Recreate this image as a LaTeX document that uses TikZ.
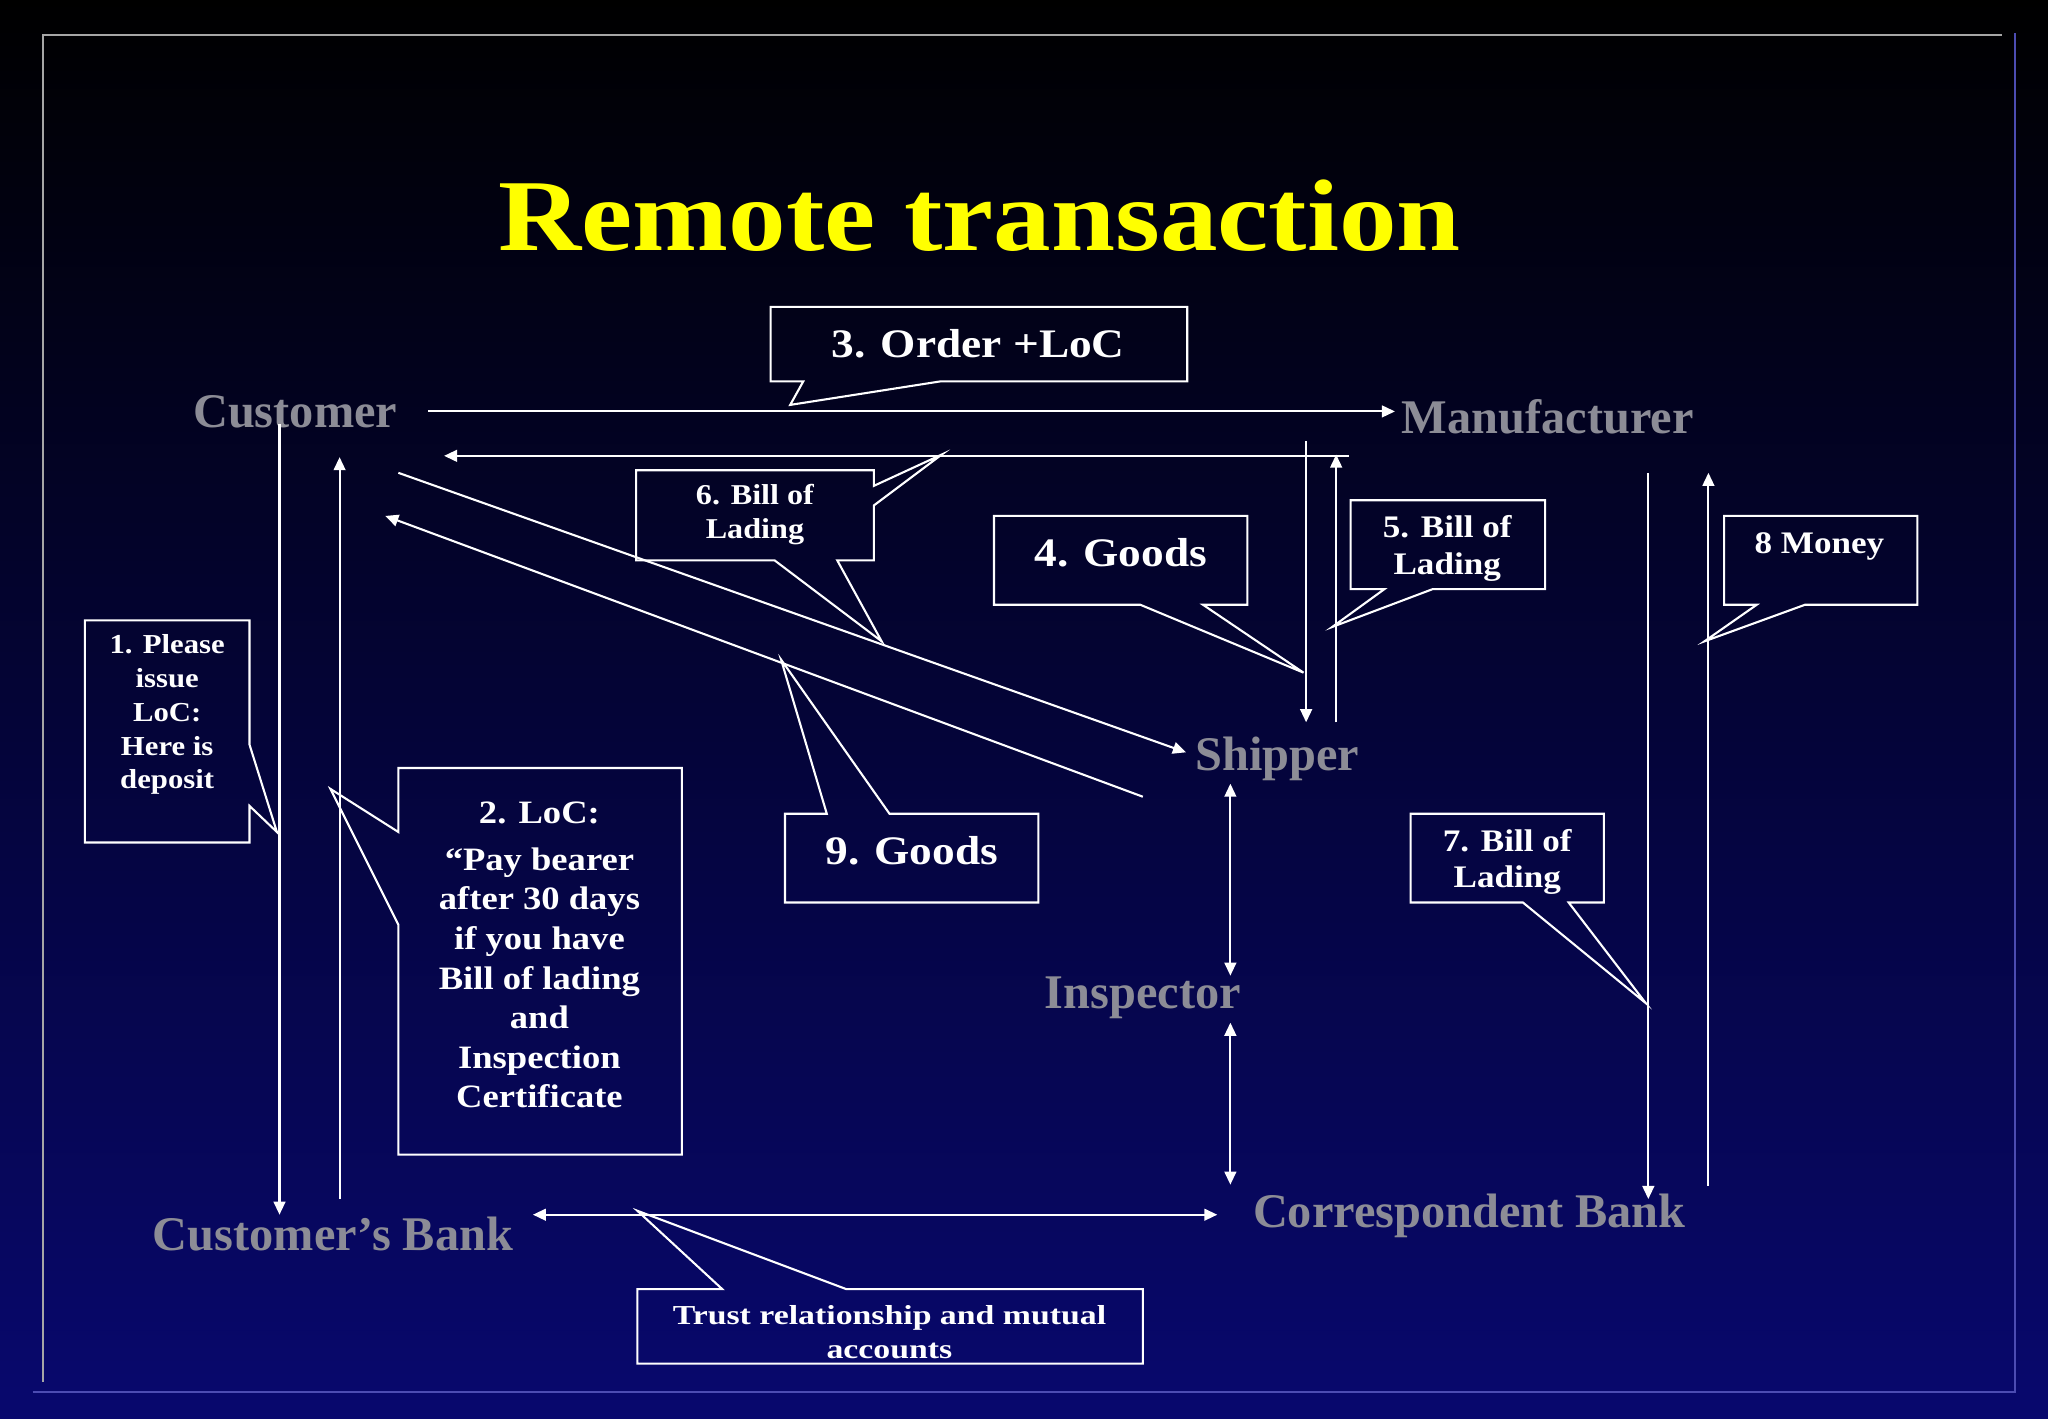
\documentclass[tikz,border=0pt]{standalone}
\usepackage{fontspec}
\setmainfont{Liberation Serif}
\usetikzlibrary{arrows.meta}
\definecolor{navy}{RGB}{8,8,110}
\definecolor{lab}{RGB}{140,140,150}
\definecolor{ttl}{RGB}{255,255,0}
\tikzset{
 ent/.style={text=lab,font=\fontsize{37}{40}\selectfont\bfseries,inner sep=0pt},
 con/.style={white,line width=1.6pt,-{Triangle[width=9pt,length=10pt]}},
 dcon/.style={white,line width=1.6pt,{Triangle[width=9pt,length=10pt]}-{Triangle[width=9pt,length=10pt]}},
 call/.style={white,line width=1.6pt,line join=miter},
 ctext/.style={text=white,align=center,inner sep=0pt,xscale=1.12},
}
\begin{document}
\begin{tikzpicture}[x=1pt,y=-1pt]
\shade[top color=black,bottom color=navy] (0,0) rectangle (1568,1086);
\useasboundingbox (0,0) rectangle (1568,1086);
\draw[gray!70,line width=1.5pt] (33,1058) -- (33,27) -- (1533,27);
\draw[blue!40!gray,line width=1.5pt] (25,1066) -- (1543,1066) -- (1543,25);
\node[text=ttl,font=\fontsize{78}{80}\selectfont\bfseries,xscale=1.13] (title) at (750,165) {Remote transaction};
% entities
\node[ent] (cust) at (226,315) {Customer};
\node[ent] (manu) at (1185,319) {Manufacturer};
\node[ent] (ship) at (978,581) {Shipper};
\node[ent] (insp) at (875,764) {Inspector};
\node[ent] (cbank) at (255,945) {Customer’s Bank};
\node[ent] (rbank) at (1125,931) {Correspondent Bank};
% coordinates
\foreach \n/\x/\y in {a1/328/315,a2/1068/315,b1/1033/349,b2/340/349,c1/214/325,c2/214/930,
 d1/260/918,d2/260/350,e1/305/362,e2/908/576,f1/875/610,f2/295/395,g1/1000/338,g2/1000/553,
 h1/1023/553,h2/1023/348,i1/1262/362,i2/1262/918,j1/1308/908,j2/1308/362,k1/942/600,k2/942/747,
 l1/942/783,l2/942/907,m1/408/930,m2/932/930}{\coordinate (\n) at (\x,\y);}
\draw[con] (a1)--(a2); \draw[con] (b1)--(b2); \draw[con] (c1)--(c2); \draw[con] (d1)--(d2);
\draw[con] (e1)--(e2); \draw[con] (f1)--(f2); \draw[con] (g1)--(g2); \draw[con] (h1)--(h2);
\draw[con] (i1)--(i2); \draw[con] (j1)--(j2);
\draw[dcon] (k1)--(k2); \draw[dcon] (l1)--(l2); \draw[dcon] (m1)--(m2);
% callouts
\draw[call] (615,292)--(590,292)--(590,235)--(909,235)--(909,292)--(720,292)--(605,310)--cycle;
\node[ctext,font=\fontsize{31}{34}\selectfont\bfseries] (t3) at (749,263) {3. Order +LoC};
\draw[call] (669,372)--(721,348)--(669,387)--(669,429)--(641,429)--(675,491)--(593,429)--(487,429)--(487,360)--(669,360)--cycle;
\node[ctext,font=\fontsize{22}{26}\selectfont\bfseries] (t6) at (578,394) {6. Bill of\\Lading};
\draw[call] (873,463)--(761,463)--(761,395)--(955,395)--(955,463)--(921,463)--(998,515)--cycle;
\node[ctext,font=\fontsize{31}{34}\selectfont\bfseries] (t4) at (858,423) {4. Goods};
\draw[call] (1060,451)--(1034,451)--(1034,383)--(1183,383)--(1183,451)--(1097,451)--(1020,480)--cycle;
\node[ctext,font=\fontsize{24}{28}\selectfont\bfseries] (t5) at (1108,420) {5. Bill of\\Lading};
\draw[call] (1345,463)--(1320,463)--(1320,395)--(1468,395)--(1468,463)--(1382,463)--(1305,491)--cycle;
\node[ctext,font=\fontsize{24}{28}\selectfont\bfseries] (t8) at (1393,418) {8 Money};
\draw[call] (191,570)--(191,475)--(65,475)--(65,645)--(191,645)--(191,617)--(212,637)--cycle;
\node[ctext,font=\fontsize{21}{26}\selectfont\bfseries] (t1) at (128,547) {1. Please\\issue\\LoC:\\Here is\\deposit};
\draw[call] (305,637)--(305,588)--(522,588)--(522,884)--(305,884)--(305,708)--(253,604)--cycle;
\node[ctext,font=\fontsize{25}{30.3}\selectfont\bfseries] (t2) at (413,731) {2. LoC:\\[6pt]“Pay bearer\\after 30 days\\if you have\\Bill of lading\\and\\Inspection\\Certificate};
\draw[call] (633,623)--(601,623)--(601,691)--(795,691)--(795,623)--(681,623)--(598,505)--cycle;
\node[ctext,font=\fontsize{31}{34}\selectfont\bfseries] (t9) at (698,651) {9. Goods};
\draw[call] (1166,691)--(1080,691)--(1080,623)--(1228,623)--(1228,691)--(1201,691)--(1260,768)--cycle;
\node[ctext,font=\fontsize{24}{28}\selectfont\bfseries] (t7) at (1154,660) {7. Bill of\\Lading};
\draw[call] (553,987)--(488,987)--(488,1044)--(875,1044)--(875,987)--(648,987)--(488,927)--cycle;
\node[ctext,font=\fontsize{21}{26}\selectfont\bfseries,xscale=1.1] (tt) at (681,1020) {Trust relationship and mutual\\accounts};
\end{tikzpicture}
\end{document}
